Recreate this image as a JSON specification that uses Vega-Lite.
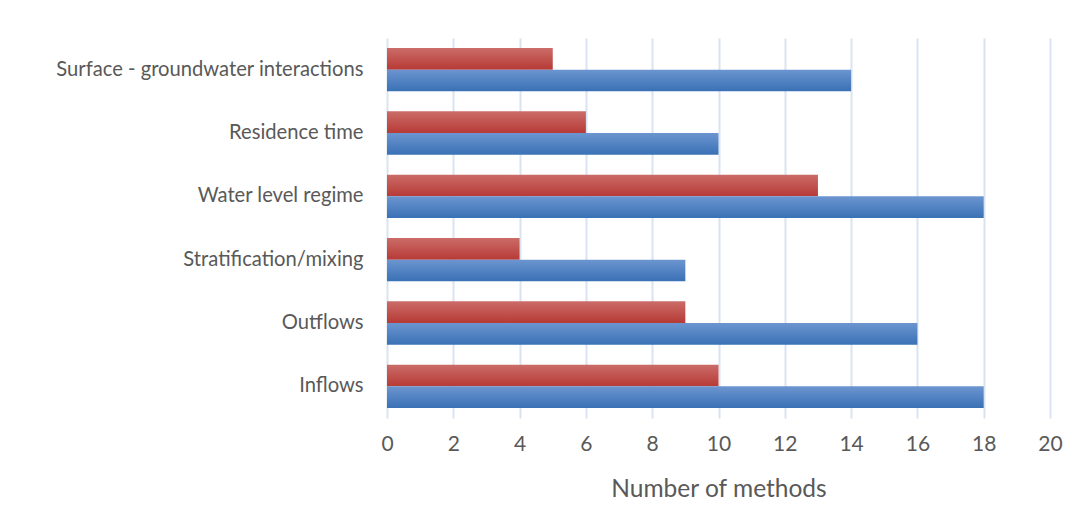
{
  "$schema": "https://vega.github.io/schema/vega-lite/v6.json",
  "autosize": {"type": "none"},
  "width": 663,
  "height": 380,
  "padding": {"left": 387, "top": 38, "right": 31, "bottom": 113},
  "background": "white",
  "config": {
    "view": {"stroke": null},
    "font": "Lato",
    "axis": {"labelColor": "#595959", "titleColor": "#595959", "labelFont": "Lato", "titleFont": "Lato", "titleFontWeight": "normal"}
  },
  "data": {
    "values": [
      {"category": "Surface - groundwater interactions", "series": "Series 2", "value": 5},
      {"category": "Surface - groundwater interactions", "series": "Series 1", "value": 14},
      {"category": "Residence time", "series": "Series 2", "value": 6},
      {"category": "Residence time", "series": "Series 1", "value": 10},
      {"category": "Water level regime", "series": "Series 2", "value": 13},
      {"category": "Water level regime", "series": "Series 1", "value": 18},
      {"category": "Stratification/mixing", "series": "Series 2", "value": 4},
      {"category": "Stratification/mixing", "series": "Series 1", "value": 9},
      {"category": "Outflows", "series": "Series 2", "value": 9},
      {"category": "Outflows", "series": "Series 1", "value": 16},
      {"category": "Inflows", "series": "Series 2", "value": 10},
      {"category": "Inflows", "series": "Series 1", "value": 18}
    ]
  },
  "encoding": {
    "y": {
      "field": "category",
      "type": "nominal",
      "sort": null,
      "scale": {"paddingInner": 0.316, "paddingOuter": 0.158},
      "axis": {"title": null, "domain": false, "ticks": false, "labelFontSize": 20.2, "labelPadding": 24, "labelLimit": 400}
    },
    "yOffset": {
      "field": "series",
      "type": "nominal",
      "scale": {"domain": ["Series 2", "Series 1"], "paddingInner": 0, "paddingOuter": 0}
    },
    "x": {
      "field": "value",
      "type": "quantitative",
      "scale": {"domain": [0, 20], "nice": false},
      "axis": {
        "title": "Number of methods",
        "values": [0, 2, 4, 6, 8, 10, 12, 14, 16, 18, 20],
        "domain": false,
        "ticks": false,
        "grid": true,
        "gridColor": "#d9e3f2",
        "gridWidth": 2,
        "labelFlush": false,
        "labelFontSize": 21,
        "labelPadding": 15,
        "titleFontSize": 24.5,
        "titlePadding": 23
      }
    }
  },
  "layer": [
    {
      "transform": [{"filter": "datum.series === 'Series 2'"}],
      "mark": {
        "type": "bar",
        "color": {"gradient": "linear", "x1": 0, "y1": 0, "x2": 0, "y2": 1, "stops": [{"offset": 0, "color": "#cb6c68"}, {"offset": 1, "color": "#b73a36"}]}
      }
    },
    {
      "transform": [{"filter": "datum.series === 'Series 1'"}],
      "mark": {
        "type": "bar",
        "color": {"gradient": "linear", "x1": 0, "y1": 0, "x2": 0, "y2": 1, "stops": [{"offset": 0, "color": "#6c95d0"}, {"offset": 1, "color": "#3a71b5"}]}
      }
    }
  ]
}
